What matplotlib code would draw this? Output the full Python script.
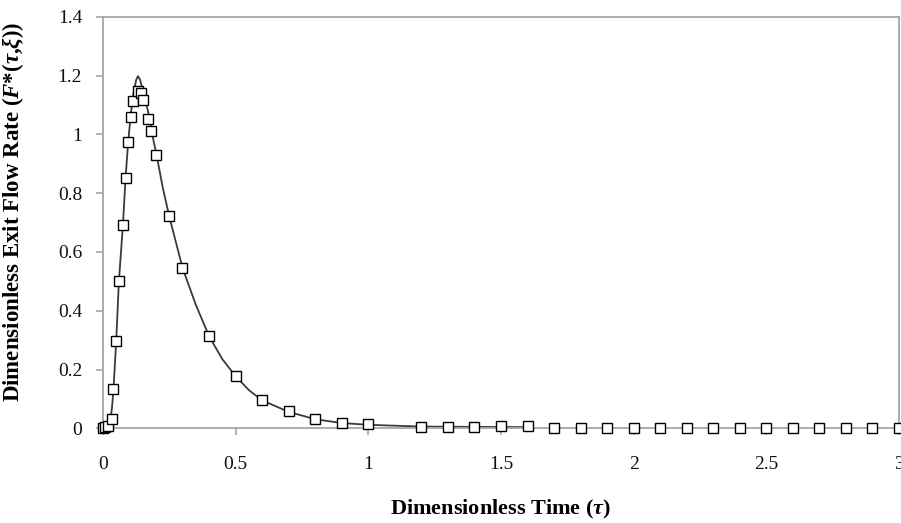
import matplotlib
matplotlib.use("Agg")
import matplotlib.pyplot as plt

# Measured (marker) data
tau_pts = [0.0, 0.008, 0.02, 0.033, 0.039, 0.049, 0.059, 0.075, 0.0855, 0.094, 0.104,
           0.114, 0.131, 0.142, 0.152, 0.171, 0.18, 0.2, 0.249, 0.298, 0.4, 0.5, 0.6,
           0.7, 0.8, 0.9, 1.0, 1.2, 1.3, 1.4, 1.5, 1.6, 1.7, 1.8, 1.9, 2.0, 2.1, 2.2,
           2.3, 2.4, 2.5, 2.6, 2.7, 2.8, 2.9, 3.0]
F_pts = [0.0, 0.004, 0.008, 0.031, 0.133, 0.298, 0.501, 0.691, 0.852, 0.975, 1.06,
         1.113, 1.147, 1.141, 1.117, 1.051, 1.012, 0.93, 0.722, 0.545, 0.313, 0.177, 0.095,
         0.058, 0.031, 0.017, 0.016, 0.005, 0.005, 0.006, 0.007, 0.009, 0.001, 0.001, 0.001,
         0.001, 0.001, 0.001, 0.001, 0.001, 0.001, 0.001, 0.001, 0.001, 0.001, 0.001]

# Model curve
tau_curve = [0.0, 0.01, 0.02, 0.03, 0.035, 0.04, 0.05, 0.06, 0.075, 0.085, 0.095, 0.105,
             0.115, 0.125, 0.132, 0.14, 0.15, 0.16, 0.177, 0.19, 0.202, 0.225, 0.25, 0.3,
             0.35, 0.4, 0.45, 0.5, 0.55, 0.6, 0.7, 0.8, 0.9, 1.0, 1.2, 1.4, 1.6]
F_curve = [0.0, 0.003, 0.01, 0.04, 0.08, 0.14, 0.3, 0.5, 0.69, 0.85, 0.975, 1.07,
           1.14, 1.185, 1.198, 1.185, 1.15, 1.115, 1.05, 0.98, 0.93, 0.82, 0.72, 0.545,
           0.42, 0.313, 0.235, 0.177, 0.13, 0.095, 0.056, 0.031, 0.018, 0.012, 0.006, 0.005, 0.004]

x_ticks = [0, 0.5, 1, 1.5, 2, 2.5, 3]
x_ticklabels = ["0", "0.5", "1", "1.5", "2", "2.5", "3"]
y_ticks = [0, 0.2, 0.4, 0.6, 0.8, 1.0, 1.2, 1.4]
y_ticklabels = ["0", "0.2", "0.4", "0.6", "0.8", "1", "1.2", "1.4"]

plt.rcParams['font.family'] = ['Liberation Serif', 'DejaVu Serif']
plt.rcParams['mathtext.fontset'] = 'custom'
plt.rcParams['mathtext.rm'] = 'Liberation Serif:bold'
plt.rcParams['mathtext.it'] = 'Liberation Serif:italic:bold'
plt.rcParams['mathtext.bf'] = 'Liberation Serif:bold'

fig = plt.figure(figsize=(9.01, 5.23), dpi=100)
ax = fig.add_axes([0.1143, 0.181, 0.8835, 0.787])

ax.plot(tau_curve, F_curve, color='#3a3a3a', lw=1.3, zorder=2)
ax.plot(tau_pts, F_pts, linestyle='none', marker='s', ms=6.5, mfc='white',
        mec='black', mew=1.0, zorder=3, clip_on=False)

ax.set_xlim(0, 3)
ax.set_ylim(0, 1.4)
ax.set_xticks(x_ticks)
ax.set_xticklabels(x_ticklabels)
ax.set_yticks(y_ticks)
ax.set_yticklabels(y_ticklabels)

for s in ax.spines.values():
    s.set_color('#a6a6a6')
    s.set_linewidth(1.3)

ax.tick_params(axis='both', colors='#a6a6a6', labelcolor='#111111', labelsize=14,
               length=5, width=1.2, direction='out')
ax.tick_params(axis='x', pad=15)
ax.tick_params(axis='y', pad=10)

ax.set_xlabel(r"Dimensionless Time ($\tau$)", fontsize=16, fontweight='bold', labelpad=18)
ax.set_ylabel(r"Dimensionless Exit Flow Rate ($F$*($\tau$,$\xi$))", fontsize=16.5,
              fontweight='bold')
ax.yaxis.set_label_coords(-0.097, 0.525)

fig.savefig("out.png", dpi=100)
